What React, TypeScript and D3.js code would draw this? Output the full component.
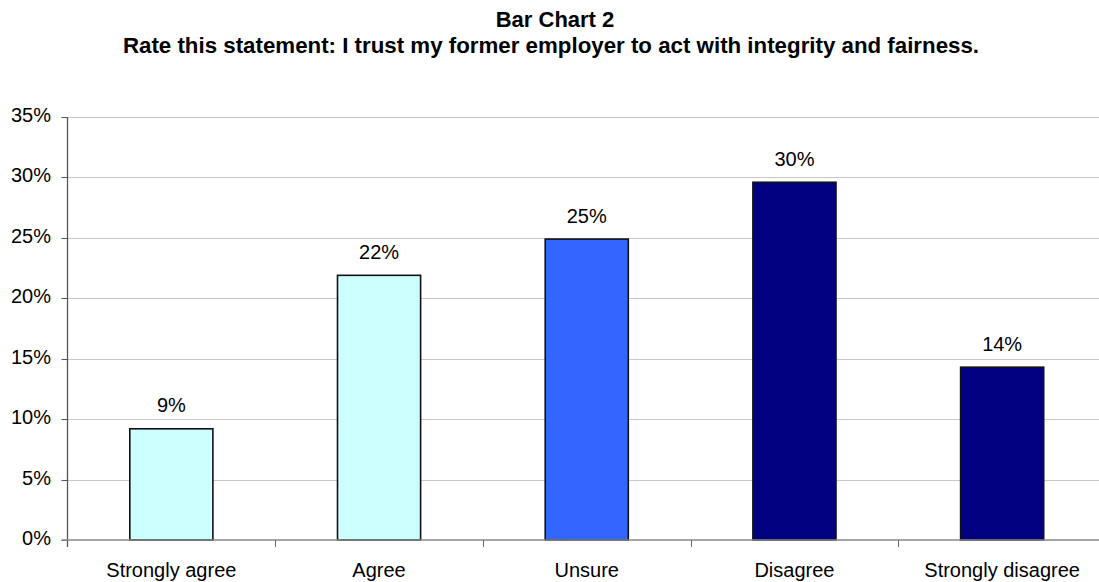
import { useEffect, useRef } from 'react';
import * as d3 from 'd3';

const categories = ['Strongly agree', 'Agree', 'Unsure', 'Disagree', 'Strongly disagree'];
const values = [0.092, 0.219, 0.249, 0.296, 0.143];
const valueLabels = ['9%', '22%', '25%', '30%', '14%'];
const barColors = ['#CCFFFF', '#CCFFFF', '#3366FF', '#000080', '#000080'];
const yTicks = [0, 0.05, 0.1, 0.15, 0.2, 0.25, 0.3, 0.35];

const title = 'Bar Chart 2';
const subtitle = 'Rate this statement: I trust my former employer to act with integrity and fairness.';

const App = (): JSX.Element => {
  const svgRef = useRef<SVGSVGElement>(null);

  useEffect(() => {
    if (svgRef.current) {
      svgRef.current.innerHTML = '';
    }
    const width = 1099;
    const height = 582;
    const left = 67.5;
    const right = 1106;
    const top = 117;
    const bottom = 540;
    const font = '"Liberation Sans", Arial, sans-serif';

    const x = d3.scaleBand<string>().domain(categories).range([left, right]).paddingInner(0.6).paddingOuter(0.3);
    const xBounds = d3.scaleBand<string>().domain(categories).range([left, right]).padding(0);
    const y = d3.scaleLinear().domain([0, 0.35]).range([bottom, top]);

    const svg = d3
      .select(svgRef.current)
      .attr('width', width)
      .attr('height', height)
      .attr('viewBox', [0, 0, width, height])
      .style('font-family', font);

    svg.append('rect').attr('width', width).attr('height', height).attr('fill', '#fff');

    // titles
    svg
      .append('text')
      .attr('x', 555)
      .attr('y', 27)
      .attr('text-anchor', 'middle')
      .attr('font-weight', 'bold')
      .attr('font-size', 22)
      .text(title);
    svg
      .append('text')
      .attr('x', 551)
      .attr('y', 53)
      .attr('text-anchor', 'middle')
      .attr('font-weight', 'bold')
      .attr('font-size', 22.3)
      .text(subtitle);

    // gridlines
    svg
      .append('g')
      .selectAll('line')
      .data(yTicks.slice(1))
      .join('line')
      .attr('x1', left)
      .attr('x2', width)
      .attr('y1', (d) => Math.round(y(d)) + 0.5)
      .attr('y2', (d) => Math.round(y(d)) + 0.5)
      .attr('stroke', '#c8c8c8')
      .attr('stroke-width', 1);

    // y ticks + labels
    const yg = svg.append('g');
    yg.selectAll('line')
      .data(yTicks)
      .join('line')
      .attr('x1', left - 6)
      .attr('x2', left)
      .attr('y1', (d) => Math.round(y(d)) + 0.5)
      .attr('y2', (d) => Math.round(y(d)) + 0.5)
      .attr('stroke', '#555');
    yg.selectAll('text')
      .data(yTicks)
      .join('text')
      .attr('x', 51)
      .attr('y', (d) => y(d) + 5)
      .attr('text-anchor', 'end')
      .attr('font-size', 20)
      .text((d) => d3.format('.0%')(d));

    // bars
    svg
      .append('g')
      .selectAll('rect')
      .data(values)
      .join('rect')
      .attr('x', (_, i) => x(categories[i])!)
      .attr('y', (d) => y(d))
      .attr('width', x.bandwidth())
      .attr('height', (d) => y(0) - y(d))
      .attr('fill', (_, i) => barColors[i])
      .attr('stroke', '#111')
      .attr('stroke-width', 1.6);

    // value labels
    svg
      .append('g')
      .selectAll('text')
      .data(values)
      .join('text')
      .attr('x', (_, i) => x(categories[i])! + x.bandwidth() / 2)
      .attr('y', (d) => y(d) - 16.5)
      .attr('text-anchor', 'middle')
      .attr('font-size', 20)
      .text((_, i) => valueLabels[i]);

    // axes lines
    svg
      .append('line')
      .attr('x1', left)
      .attr('x2', left)
      .attr('y1', top)
      .attr('y2', bottom + 7)
      .attr('stroke', '#555')
      .attr('stroke-width', 1.3);
    svg
      .append('line')
      .attr('x1', left - 6)
      .attr('x2', width)
      .attr('y1', bottom)
      .attr('y2', bottom)
      .attr('stroke', '#888')
      .attr('stroke-width', 1.5);

    // x category ticks
    svg
      .append('g')
      .selectAll('line')
      .data(categories.slice(1))
      .join('line')
      .attr('x1', (d) => Math.round(xBounds(d)!) + 0.5)
      .attr('x2', (d) => Math.round(xBounds(d)!) + 0.5)
      .attr('y1', bottom)
      .attr('y2', bottom + 7)
      .attr('stroke', '#666')
      .attr('stroke-width', 1);

    // category labels
    svg
      .append('g')
      .selectAll('text')
      .data(categories)
      .join('text')
      .attr('x', (d) => x(d)! + x.bandwidth() / 2)
      .attr('y', 577)
      .attr('text-anchor', 'middle')
      .attr('font-size', 20)
      .text((d) => d);
  }, []);

  return (
    <div style={{ position: 'absolute', left: 0, top: 0 }}>
      <svg ref={svgRef} style={{ display: 'block' }} />
    </div>
  );
};

export default App;
